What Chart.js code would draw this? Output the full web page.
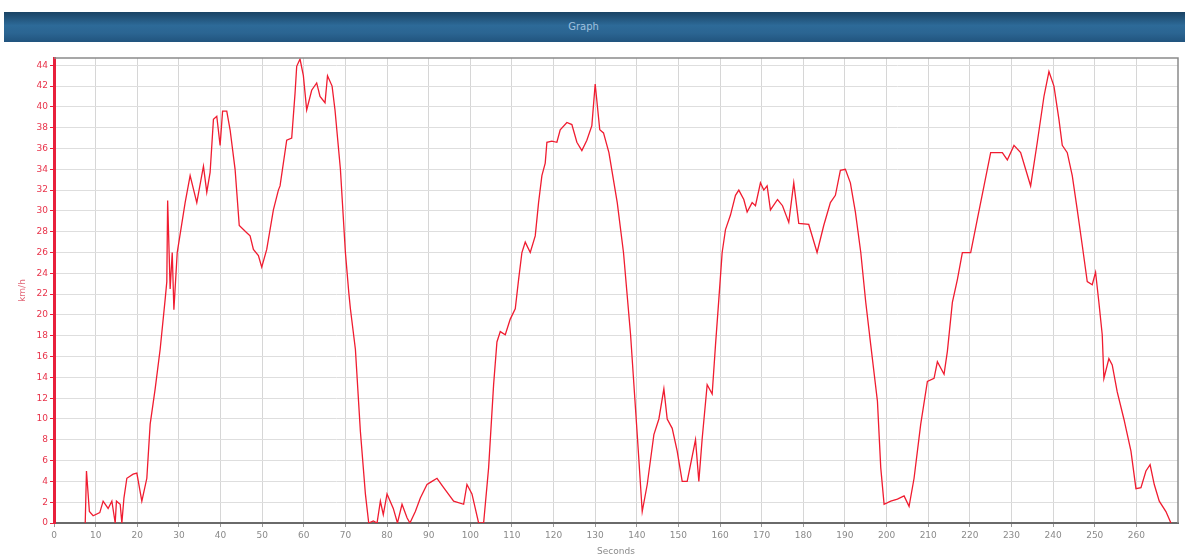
<!DOCTYPE html>
<html>
<head>
<meta charset="utf-8">
<script src="https://cdn.jsdelivr.net/npm/chart.js@4/dist/chart.umd.min.js"></script>
<style>
    body { margin: 0; background: #fff; width: 1185px; height: 558px; overflow: hidden; position: relative; font-family: "DejaVu Sans", sans-serif; }
    #titleBar {
        position: absolute; left: 4px; top: 12px; width: 1181px; height: 30px;
        background: linear-gradient(#1a4364, #2d6a98 45%, #2b6592 70%, #21547e);
        color: #9fc0de; font-size: 10px; line-height: 30px; text-align: center;
        box-sizing: border-box; padding-right: 22px;
    }
    #chartWrap { position: absolute; left: 0; top: 44px; }
</style>
</head>
<body>
<div id="titleBar">Graph</div>
<div id="chartWrap"><canvas id="speedChart" width="1185" height="514"></canvas></div>
<script>
// time in seconds and speed in km/h
const seconds = [7.5, 7.8, 8.5, 9.4, 11, 11.8, 13, 13.9, 14.7, 15, 15.9, 16.3, 16.8, 17.5, 19, 19.9, 21.1, 22.3, 23.1, 24.3,
    25.5, 26.7, 27.1, 27.3, 27.9, 28.4, 28.8, 29.6, 31.5, 32.7, 34.3, 35.9, 36.7, 37.5, 38.3, 39.1, 39.9, 40.5, 41.5, 42.3,
    43.5, 44.5, 46.3, 47.1, 47.9, 49.1, 49.9, 51.1, 52.7, 53.9, 54.3, 55.9, 57.1, 57.9, 58.3, 59.1, 59.9, 60.7, 61.9, 63.1,
    63.9, 65.1, 65.7, 66.8, 67.5, 68.8, 70, 70.8, 71.2, 72.4, 73.6, 74.8, 75.6, 76.7, 77.6, 78.4, 79.1, 80, 81.5, 82.5,
    83.6, 84.8, 85.5, 86.8, 88, 89.6, 90.8, 92, 93.6, 96, 98.4, 99.2, 100.4, 102, 103.2, 104.4, 105.6, 106.4, 107.2, 108.4,
    109.6, 110.8, 111.6, 112.4, 113.2, 114.4, 115.6, 116.4, 117.2, 118, 118.4, 119.6, 120.8, 121.6, 123.2, 124.4, 125.6, 126.8, 128, 129.2,
    130, 131.1, 132, 133.3, 135.3, 136.8, 138.5, 140.1, 141.3, 142.5, 144.1, 145.3, 146.5, 147.3, 148.5, 149.7, 150.9, 152.1, 154.1, 154.9,
    155.7, 156.9, 158.1, 158.9, 159.7, 160.5, 161.3, 162.5, 163.7, 164.5, 165.7, 166.5, 167.7, 168.5, 169.7, 170.5, 171.3, 172.1, 173.8, 175,
    176.5, 177.7, 178.9, 181.3, 183.3, 184.9, 186.5, 187.7, 188.9, 190.1, 191.3, 192.5, 193.8, 195, 196.2, 197.8, 198.6, 199.4, 201, 202.6,
    204.2, 205.4, 206.6, 208.2, 209.8, 211.4, 212.2, 213.8, 214.6, 215.8, 217, 218.2, 220.2, 221.8, 223.4, 225, 227.8, 229, 230.6, 232.2,
    233.4, 234.6, 236.2, 237.8, 239, 240.2, 241.4, 242.2, 243.4, 244.6, 245.8, 247, 248.2, 249.4, 250.2, 251, 251.8, 252.2, 253.4, 254.2,
    255.4, 257, 258.7, 259.9, 261.1, 262.3, 263.3, 264.3, 265.5, 267.1, 268.3];

const speed = [0, 5, 1.1, 0.7, 1, 2.1, 1.4, 2.1, 0, 2.1, 1.8, 0, 2.4, 4.3, 4.7, 4.8, 2.1, 4.3, 9.5, 12.9,
    16.7, 21.5, 23.2, 31, 22.5, 26, 20.5, 26, 30.8, 33.4, 30.8, 34.3, 31.8, 33.7, 38.8, 39.1, 36.3, 39.6, 39.6, 37.8,
    34, 28.6, 27.9, 27.6, 26.3, 25.7, 24.6, 26.3, 30.1, 32, 32.4, 36.8, 37, 41.3, 43.9, 44.6, 43, 39.7, 41.6, 42.3,
    41, 40.4, 43, 42, 39.7, 34, 26, 22.2, 20.6, 16.7, 8.8, 2.8, 0, 0.2, 0, 2.1, 0.8, 2.8, 1.4, 0,
    1.8, 0.5, 0, 1.1, 2.4, 3.7, 4, 4.3, 3.4, 2.1, 1.8, 3.7, 2.8, 0, 0, 5.3, 13.3, 17.4, 18.4, 18.1,
    19.6, 20.6, 23.4, 26, 27, 26, 27.6, 30.8, 33.4, 34.6, 36.6, 36.7, 36.6, 37.8, 38.5, 38.3, 36.6, 35.8, 36.8, 38.2,
    42.2, 37.8, 37.5, 35.6, 30.8, 26, 18.1, 8.5, 1.1, 3.7, 8.5, 10, 12.9, 10, 9.1, 6.9, 4, 4, 8, 4,
    8.1, 13.3, 12.4, 17.1, 21.5, 26, 28.2, 29.6, 31.5, 32, 31.1, 29.9, 30.8, 30.5, 32.7, 32, 32.4, 30.1, 31.1, 30.5,
    28.9, 32.7, 28.8, 28.7, 26, 28.6, 30.8, 31.5, 33.9, 34, 32.7, 29.9, 26, 21.2, 17.1, 11.7, 5.3, 1.8, 2.1, 2.3,
    2.6, 1.6, 4.3, 9.5, 13.6, 13.9, 15.5, 14.3, 16.5, 21.2, 23.4, 26, 26, 29.2, 32.4, 35.6, 35.6, 34.9, 36.3, 35.6,
    34, 32.4, 36.6, 41, 43.4, 42, 38.8, 36.3, 35.6, 33.4, 30.1, 26.7, 23.2, 22.9, 24.1, 21.2, 18.1, 13.9, 15.8, 15.2,
    12.6, 10, 6.9, 3.3, 3.4, 5, 5.6, 3.7, 2.1, 1.1, 0];

// axis tick values
const yTicks = [0, 2, 4, 6, 8, 10, 12, 14, 16, 18, 20, 22, 24, 26, 28, 30, 32, 34, 36, 38, 40, 42, 44];
const xTicks = [0, 10, 20, 30, 40, 50, 60, 70, 80, 90, 100, 110, 120, 130, 140, 150, 160, 170, 180, 190, 200, 210, 220, 230, 240, 250, 260];

const xMax = 270;
const yMax = 44.7;

// grey frame on top and right of the plot area
const frame = {
    id: 'frame',
    afterDraw(chart) {
        const a = chart.chartArea;
        const ctx = chart.ctx;
        ctx.save();
        ctx.strokeStyle = '#8a8a8a';
        ctx.lineWidth = 1.5;
        ctx.beginPath();
        ctx.moveTo(a.left, a.top);
        ctx.lineTo(a.right, a.top);
        ctx.lineTo(a.right, a.bottom);
        ctx.stroke();
        ctx.restore();
    }
};

const ctx = document.getElementById('speedChart').getContext('2d');
new Chart(ctx, {
    type: 'line',
    data: {
        datasets: [{
            label: 'km/h',
            data: seconds.map((s, i) => ({ x: s, y: speed[i] })),
            borderColor: '#f01c30',
            borderWidth: 1.3,
            pointRadius: 0,
            tension: 0,
            fill: false
        }]
    },
    options: {
        responsive: false,
        animation: false,
        layout: { padding: { top: 14, right: 7, left: 0, bottom: 0 } },
        plugins: { legend: { display: false }, tooltip: { enabled: false } },
        scales: {
            x: {
                type: 'linear',
                min: 0,
                max: xMax,
                border: { color: '#6a6a6a', width: 2 },
                grid: { color: '#d6d6d6', tickLength: 4, tickColor: '#999' },
                afterBuildTicks: scale => {
                    scale.ticks = xTicks.map(v => ({ value: v }));
                },
                ticks: {
                    padding: 3,
                    maxRotation: 0,
                    autoSkip: false,
                    color: '#8a8a8a',
                    font: { family: 'DejaVu Sans', size: 9 }
                },
                title: {
                    display: true,
                    text: 'Seconds',
                    color: '#8a8a8a',
                    font: { family: 'DejaVu Sans', size: 9 },
                    padding: { top: 0, bottom: 1 }
                },
                afterFit: scale => { scale.height = 35; }
            },
            y: {
                min: 0,
                max: yMax,
                border: { color: '#e8203c', width: 3 },
                grid: { color: '#dedede', tickLength: 4, tickColor: '#e8203c' },
                afterBuildTicks: scale => {
                    scale.ticks = yTicks.map(v => ({ value: v }));
                },
                ticks: {
                    padding: 2,
                    autoSkip: false,
                    color: '#e8334a',
                    font: { family: 'DejaVu Sans', size: 9 }
                },
                title: {
                    display: true,
                    text: 'km/h',
                    color: '#e26a7a',
                    font: { family: 'DejaVu Sans', size: 9 },
                    padding: { top: 17, bottom: 0 }
                },
                afterFit: scale => { scale.width = 54; }
            }
        }
    },
    plugins: [frame]
});
</script>
</body>
</html>
